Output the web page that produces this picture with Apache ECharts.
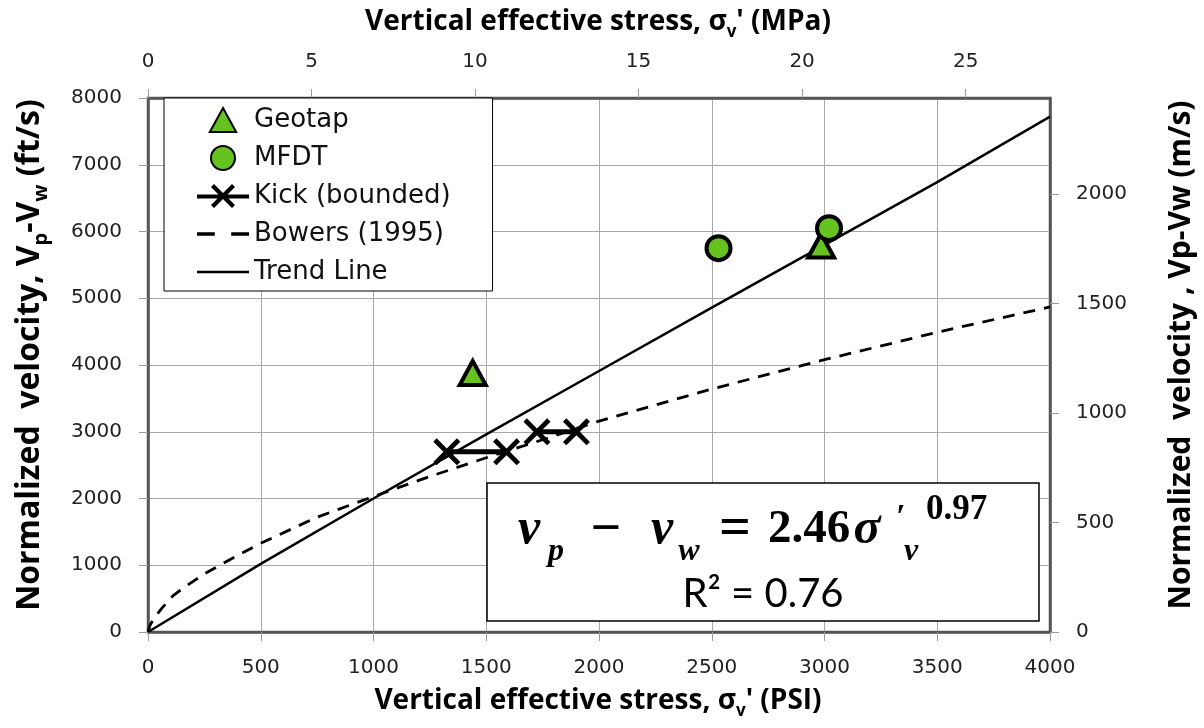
<!DOCTYPE html>
<html>
<head>
<meta charset="utf-8">
<script src="https://cdn.jsdelivr.net/npm/echarts@6/dist/echarts.min.js"></script>
<style>
  html, body { margin: 0; padding: 0; background: #fff; }
  #chart { width: 1204px; height: 728px; }
</style>
</head>
<body>
<div id="chart"></div>
<script>
// axis ranges (PSI / ft/s on main axes, MPa / m/s on secondary axes)
const psiMax = 4000
const mpaMax = 27.579
const ftsMax = 8000
const msMax = 2438.4

// Geotap (triangles)
const geotapX = [1440, 2985]
const geotapY = [3880, 5790]

// MFDT (circles)
const mfdtX = [2530, 3020]
const mfdtY = [5750, 6050]

// Kick (bounded), two bounded ranges
const kickLowX = [1325, 1590]
const kickLowY = [2700, 2700]
const kickHighX = [1725, 1900]
const kickHighY = [3000, 3000]

// Bowers (1995) curve
const bowersX = [0, 10, 30, 60, 110, 160, 250, 350, 500, 750, 1000, 1250, 1500, 1750, 2000, 2500, 3000, 3500, 4000]
const bowersY = [0, 110, 220, 350, 540, 670, 870, 1060, 1330, 1720, 2030, 2330, 2610, 2880, 3160, 3640, 4080, 4490, 4870]

// Trend line
const trendX = [0, 500, 1000, 1500, 2000, 2500, 3000, 3500, 4000]
const trendY = [0, 1020, 2000, 2960, 3910, 4860, 5800, 6740, 7720]

function pairs(xs, ys) {
  return xs.map((x, i) => [x, ys[i]])
}

const green = '#66c21e'
const labelFont = 'DejaVu Sans'
const titleFont = 'Open Sans'
const crossPath = 'path://M0,3 L3,0 L12,9 L21,0 L24,3 L15,12 L24,21 L21,24 L12,15 L3,24 L0,21 L9,12 Z'

// legend icons
const kickIcon = 'path://M0,10.5 H52 V14.5 H0 Z M14,3 L17,0 L26,9 L35,0 L38,3 L29,12 L38,21 L35,24 L26,15 L17,24 L14,21 L23,12 Z'
const dashIcon = 'path://M0,0 H13 V2.5 H0 Z M25,0 H38 V2.5 H25 Z'
const lineIcon = 'path://M0,0 H50 V2.5 H0 Z'
const triIcon = 'path://M11,0 L22,20 L0,20 Z'

let myChart = echarts.init(document.getElementById('chart'))

const plainNum = (v) => String(v)
const axisLine = { show: true, onZero: false, lineStyle: { color: '#555', width: 2.5 } }
const axisTick = { show: true, length: 9, lineStyle: { color: '#999', width: 1 } }
const axisLabel = { fontFamily: labelFont, fontSize: 20, color: '#222', margin: 26, formatter: plainNum }
const splitLine = { show: true, lineStyle: { color: '#a8a8a8', width: 1 } }

function titleRich(size) {
  return {
    t: { fontFamily: titleFont, fontWeight: 'bold', fontSize: size, color: '#111', lineHeight: size + 10 },
    s: { fontFamily: titleFont, fontWeight: 'bold', fontSize: Math.round(size * 0.62), color: '#111', lineHeight: size + 10, verticalAlign: 'bottom' }
  }
}

const mathStyle = { fontFamily: 'Liberation Serif', fontWeight: 'bold', fill: '#000' }

function mathText(str, x, y, size, italic, align) {
  return {
    type: 'text',
    x: x,
    y: y,
    z: 101,
    style: Object.assign({}, mathStyle, {
      text: str,
      fontSize: size,
      fontStyle: italic ? 'italic' : 'normal',
      align: align || 'center',
      verticalAlign: 'middle'
    })
  }
}

let options = {
  animation: false,
  grid: {
    left: 148,
    right: 154,
    top: 98,
    bottom: 96,
    show: true,
    borderColor: '#555',
    borderWidth: 2.5
  },
  legend: {
    left: 164,
    top: 98,
    orient: 'vertical',
    backgroundColor: '#fff',
    borderColor: '#000',
    borderWidth: 1,
    borderRadius: 0,
    padding: [8, 42, 5, 33],
    itemGap: 10,
    itemWidth: 52,
    itemHeight: 24,
    textStyle: { fontFamily: 'DejaVu Sans', fontSize: 26, color: '#111', lineHeight: 28 },
    data: [
      { name: 'Geotap', icon: triIcon },
      { name: 'MFDT', icon: 'circle' },
      { name: 'Kick (bounded)', icon: kickIcon },
      { name: 'Bowers (1995)', icon: dashIcon },
      { name: 'Trend Line', icon: lineIcon }
    ]
  },
  xAxis: [
    {
      type: 'value',
      position: 'bottom',
      min: 0,
      max: psiMax,
      interval: 500,
      axisLine: axisLine,
      axisTick: axisTick,
      axisLabel: axisLabel,
      splitLine: splitLine
    },
    {
      type: 'value',
      position: 'top',
      min: 0,
      max: mpaMax,
      interval: 5,
      axisLine: axisLine,
      axisTick: axisTick,
      axisLabel: Object.assign({}, axisLabel, { showMaxLabel: false }),
      splitLine: { show: false }
    }
  ],
  yAxis: [
    {
      type: 'value',
      position: 'left',
      min: 0,
      max: ftsMax,
      interval: 1000,
      axisLine: axisLine,
      axisTick: axisTick,
      axisLabel: axisLabel,
      splitLine: splitLine
    },
    {
      type: 'value',
      position: 'right',
      min: 0,
      max: msMax,
      interval: 500,
      axisLine: axisLine,
      axisTick: axisTick,
      axisLabel: Object.assign({}, axisLabel, { showMaxLabel: false }),
      splitLine: { show: false }
    }
  ],
  series: [
    {
      name: 'Bowers (1995)',
      type: 'line',
      data: pairs(bowersX, bowersY),
      showSymbol: false,
      symbol: 'none',
      lineStyle: { color: '#000', width: 2.8, type: [12, 9] },
      itemStyle: { color: '#000' },
      z: 2
    },
    {
      name: 'Trend Line',
      type: 'line',
      data: pairs(trendX, trendY),
      showSymbol: false,
      symbol: 'none',
      lineStyle: { color: '#000', width: 2.5 },
      itemStyle: { color: '#000' },
      z: 3
    },
    {
      name: 'Kick (bounded)',
      type: 'line',
      data: pairs(kickLowX, kickLowY),
      symbol: crossPath,
      symbolSize: 27,
      lineStyle: { color: '#000', width: 5 },
      itemStyle: { color: '#000' },
      z: 4
    },
    {
      name: 'Kick (bounded)',
      type: 'line',
      data: pairs(kickHighX, kickHighY),
      symbol: crossPath,
      symbolSize: 27,
      lineStyle: { color: '#000', width: 5 },
      itemStyle: { color: '#000' },
      z: 4
    },
    {
      name: 'Geotap',
      type: 'scatter',
      data: pairs(geotapX, geotapY),
      symbol: 'triangle',
      symbolSize: [26, 24],
      itemStyle: { color: green, borderColor: '#000', borderWidth: 4, opacity: 1 },
      z: 5
    },
    {
      name: 'MFDT',
      type: 'scatter',
      data: pairs(mfdtX, mfdtY),
      symbol: 'circle',
      symbolSize: 24,
      itemStyle: { color: green, borderColor: '#000', borderWidth: 4, opacity: 1 },
      z: 6
    }
  ],
  graphic: [
    // axis titles
    {
      type: 'text', x: 598, y: 22, z: 100,
      style: { text: "{t|Vertical effective stress, σ}{s|v}{t|' (MPa)}", rich: titleRich(28), align: 'center', verticalAlign: 'middle' }
    },
    {
      type: 'text', x: 598, y: 701, z: 100,
      style: { text: "{t|Vertical effective stress, σ}{s|v}{t|' (PSI)}", rich: titleRich(28), align: 'center', verticalAlign: 'middle' }
    },
    {
      type: 'text', x: 30, y: 355, rotation: Math.PI / 2, z: 100,
      style: { text: '{t|Normalized  velocity, V}{s|p}{t|-V}{s|w}{t| (ft/s)}', rich: titleRich(32), align: 'center', verticalAlign: 'middle' }
    },
    {
      type: 'text', x: 1181, y: 355, rotation: Math.PI / 2, z: 100,
      style: { text: '{t|Normalized  velocity , Vp-Vw (m/s)}', rich: titleRich(30), align: 'center', verticalAlign: 'middle' }
    },
    // equation box
    {
      type: 'rect', z: 100,
      shape: { x: 487, y: 483, width: 552, height: 138 },
      style: { fill: '#fff', stroke: '#000', lineWidth: 1.5 }
    },
    mathText('v', 529, 530, 50, true),
    mathText('p', 556, 552, 32, true),
    mathText('−', 606, 531, 54, false),
    mathText('v', 662, 530, 50, true),
    mathText('w', 689, 552, 32, true),
    mathText('=', 735, 531, 56, false),
    mathText('2.46', 768, 530, 47, false, 'left'),
    mathText('σ', 867, 530, 50, true),
    mathText('′', 901, 518, 34, false),
    mathText('v', 911, 552, 32, true),
    mathText('0.97', 926, 510, 35, false, 'left'),
    {
      type: 'text', x: 763, y: 594, z: 101,
      style: { text: 'R² = 0.76', fontFamily: 'Lato', fontSize: 40, fill: '#000', align: 'center', verticalAlign: 'middle' }
    }
  ]
}

myChart.setOption(options)
</script>
</body>
</html>
